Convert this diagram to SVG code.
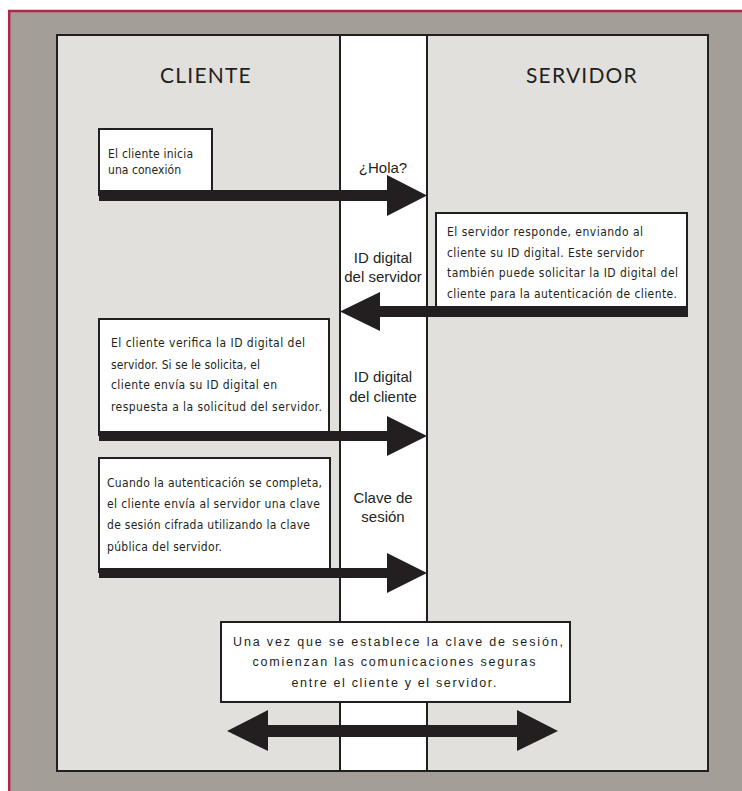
<svg xmlns="http://www.w3.org/2000/svg" width="742" height="791" viewBox="0 0 742 791">
<style>
.bx{fill:#ffffff;stroke:#231f20;stroke-width:2}
.t{font-family:"DejaVu Sans Condensed","Liberation Sans",sans-serif;font-size:12px;fill:#231f20}
.c{font-family:"Liberation Sans",Arial,sans-serif;font-size:15px;fill:#231f20;text-anchor:middle}
.h{font-family:"Lato","Liberation Sans",sans-serif;font-weight:400;font-size:21px;fill:#231f20;text-anchor:middle;letter-spacing:1.2px}
.b{font-family:"Liberation Sans",Arial,sans-serif;font-size:12.5px;fill:#231f20;text-anchor:middle}
.ar{fill:#231f20}
</style>
<rect x="0" y="0" width="742" height="791" fill="#ffffff"/>
<rect x="9.5" y="11" width="733" height="781" fill="#a39e97"/>
<line x1="8" y1="11" x2="742" y2="11" stroke="#b0264e" stroke-width="2.5"/>
<line x1="9.2" y1="10" x2="9.2" y2="791" stroke="#b0264e" stroke-width="2.5"/>
<g id="panel">
<rect x="57" y="35" width="651" height="736" fill="#e2e0dc" stroke="#231f20" stroke-width="2"/>
<rect x="340" y="35" width="87" height="736" fill="#ffffff" stroke="#231f20" stroke-width="2"/>
</g>
<g id="cliente"><text class="h" x="206" y="83">CLIENTE</text></g>
<g id="servidor"><text class="h" x="582" y="83">SERVIDOR</text></g>
<g id="box1">
<rect class="bx" x="99" y="129" width="113" height="66"/>
<text class="t" x="108" y="158" textLength="85">El cliente inicia</text>
<text class="t" x="108" y="174" textLength="73">una conexión</text>
</g>
<g id="box2">
<rect class="bx" x="436" y="213" width="251" height="98"/>
<text class="t" x="447" y="236" textLength="196">El servidor responde, enviando al</text>
<text class="t" x="447" y="257" textLength="197">cliente su ID digital. Este servidor</text>
<text class="t" x="447" y="277" textLength="231">también puede solicitar la ID digital del</text>
<text class="t" x="447" y="298" textLength="230">cliente para la autenticación de cliente.</text>
</g>
<g id="box3">
<rect class="bx" x="99" y="319" width="230" height="116"/>
<text class="t" x="111" y="347" textLength="194">El cliente verifica la ID digital del</text>
<text class="t" x="111" y="369" textLength="149">servidor. Si se le solicita, el</text>
<text class="t" x="111" y="389" textLength="166">cliente envía su ID digital en</text>
<text class="t" x="111" y="411" textLength="211">respuesta a la solicitud del servidor.</text>
</g>
<g id="box4">
<rect class="bx" x="99" y="458" width="231" height="114"/>
<text class="t" x="107" y="487" textLength="215">Cuando la autenticación se completa,</text>
<text class="t" x="107" y="508" textLength="213">el cliente envía al servidor una clave</text>
<text class="t" x="107" y="529" textLength="203">de sesión cifrada utilizando la clave</text>
<text class="t" x="107" y="551" textLength="115">pública del servidor.</text>
</g>
<g id="box5">
<rect class="bx" x="221" y="622" width="349" height="80"/>
<text class="b" x="398" y="646" textLength="330">Una vez que se establece la clave de sesión,</text>
<text class="b" x="394" y="666" textLength="283">comienzan las comunicaciones seguras</text>
<text class="b" x="394" y="687" textLength="205">entre el cliente y el servidor.</text>
</g>
<g id="labels">
<text class="c" x="383" y="173">¿Hola?</text>
<text class="c" x="383" y="263">ID digital</text>
<text class="c" x="383" y="282">del servidor</text>
<text class="c" x="383" y="382">ID digital</text>
<text class="c" x="383" y="402">del cliente</text>
<text class="c" x="383" y="503">Clave de</text>
<text class="c" x="383" y="522">sesión</text>
</g>
<g id="connectors">
<polygon class="ar" points="99,190 387,190 387,175 427,195.5 387,216 387,201 99,201"/>
<polygon class="ar" points="688,306 380,306 380,292 340,311.5 380,331 380,317 688,317"/>
<polygon class="ar" points="99,431 387,431 387,416 427,436 387,456 387,441 99,441"/>
<polygon class="ar" points="99,568 387,568 387,553 427,573 387,593 387,578 99,578"/>
<polygon class="ar" points="227,731 268,710 268,725 517,725 517,710 558,731 517,751 517,737 268,737 268,751"/>
</g>
</svg>
